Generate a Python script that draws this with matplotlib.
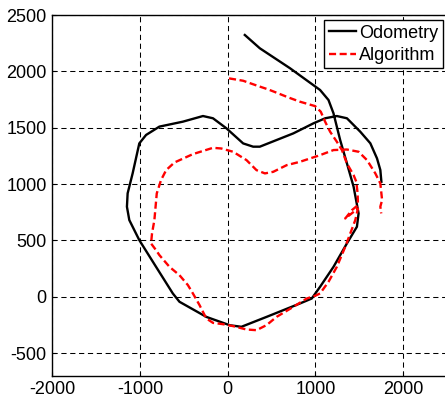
import matplotlib
matplotlib.use("Agg")
import matplotlib.pyplot as plt

# Odometry trajectory (mm)
odo_x = [195, 366, 710, 1053, 1149, 1206, 1282, 1359, 1435, 1492, 1473, 1359, 1206,
         1053, 958, 824, 443, 156, 23, -244, -550, -626, -817, -1008, -1122, -1149,
         -1141, -1084, -1008, -931, -779, -511, -282, -168, -15, 176, 290, 366, 557,
         748, 977, 1111, 1244, 1359, 1511, 1626, 1702, 1740, 1752]
odo_y = [2323, 2205, 2028, 1835, 1746, 1628, 1391, 1184, 977, 740, 622, 474, 266,
         89, -15, -59, -178, -266, -252, -178, -44, 30, 266, 503, 681, 799,
         918, 1095, 1361, 1436, 1510, 1554, 1604, 1584, 1495, 1361, 1332, 1332, 1391,
         1450, 1539, 1584, 1604, 1584, 1465, 1362, 1228, 1125, 1021]

# Algorithm trajectory (mm)
alg_x = [15, 176, 347, 462, 557, 691, 824, 996, 1061, 1111, 1168, 1244, 1302, 1359,
         1435, 1466, 1481, 1485, 1416, 1340, 1485, 1454, 1397, 1340, 1244, 1149, 1053,
         996, 901, 748, 557, 443, 328, 214, 61, -53, -168, -244, -321, -397, -454,
         -550, -664, -779, -817, -874, -863, -836, -809, -760, -702, -607, -397, -168,
         -73, 61, 214, 328, 424, 519, 672, 824, 1053, 1206, 1359, 1492, 1588, 1683,
         1740, 1760, 1740, 1750]
alg_y = [1938, 1917, 1870, 1840, 1811, 1769, 1731, 1692, 1642, 1553, 1464, 1376, 1302,
         1183, 1080, 1021, 917, 814, 769, 695, 784, 680, 562, 444, 266, 133, 30,
         9, -15, -89, -178, -251, -296, -290, -260, -243, -231, -192, -74, 30, 104,
         192, 266, 370, 414, 473, 562, 681, 917, 1036, 1124, 1192, 1266, 1322,
         1316, 1287, 1213, 1124, 1095, 1109, 1168, 1198, 1257, 1302, 1307, 1287, 1213, 1095,
         1006, 858, 800, 740]

x_ticks = [-2000, -1000, 0, 1000, 2000]
y_ticks = [-500, 0, 500, 1000, 1500, 2000, 2500]

plt.rcParams["font.family"] = ["Liberation Sans", "DejaVu Sans"]
plt.rcParams["font.size"] = 13
plt.rcParams["axes.unicode_minus"] = False

fig = plt.figure(figsize=(4.45, 4.03), dpi=100)
ax = fig.add_axes([0.1175, 0.0677, 0.887, 0.895])

ax.plot(odo_x, odo_y, color="black", lw=1.7, label="Odometry")
ax.plot(alg_x, alg_y, color="red", lw=1.7, linestyle=(0, (3, 1.5)), label="Algorithm")

ax.set_xlim(-2000, 2500)
ax.set_ylim(-700, 2500)
ax.set_xticks(x_ticks)
ax.set_yticks(y_ticks)
ax.tick_params(direction="in", length=3, width=0.8, pad=4)
ax.grid(True, color="black", lw=0.75, linestyle=(0, (5, 3.5)))
for s in ax.spines.values():
    s.set_linewidth(1.0)

ax.legend(loc="upper right", bbox_to_anchor=(443 / 445, 1 - 20 / 403),
          bbox_transform=fig.transFigure, borderaxespad=0, fancybox=False,
          framealpha=1, edgecolor="black", handlelength=1.5, handletextpad=0.2,
          labelspacing=0.3, borderpad=0.25, fontsize=13)

fig.savefig("out.png", dpi=100)
